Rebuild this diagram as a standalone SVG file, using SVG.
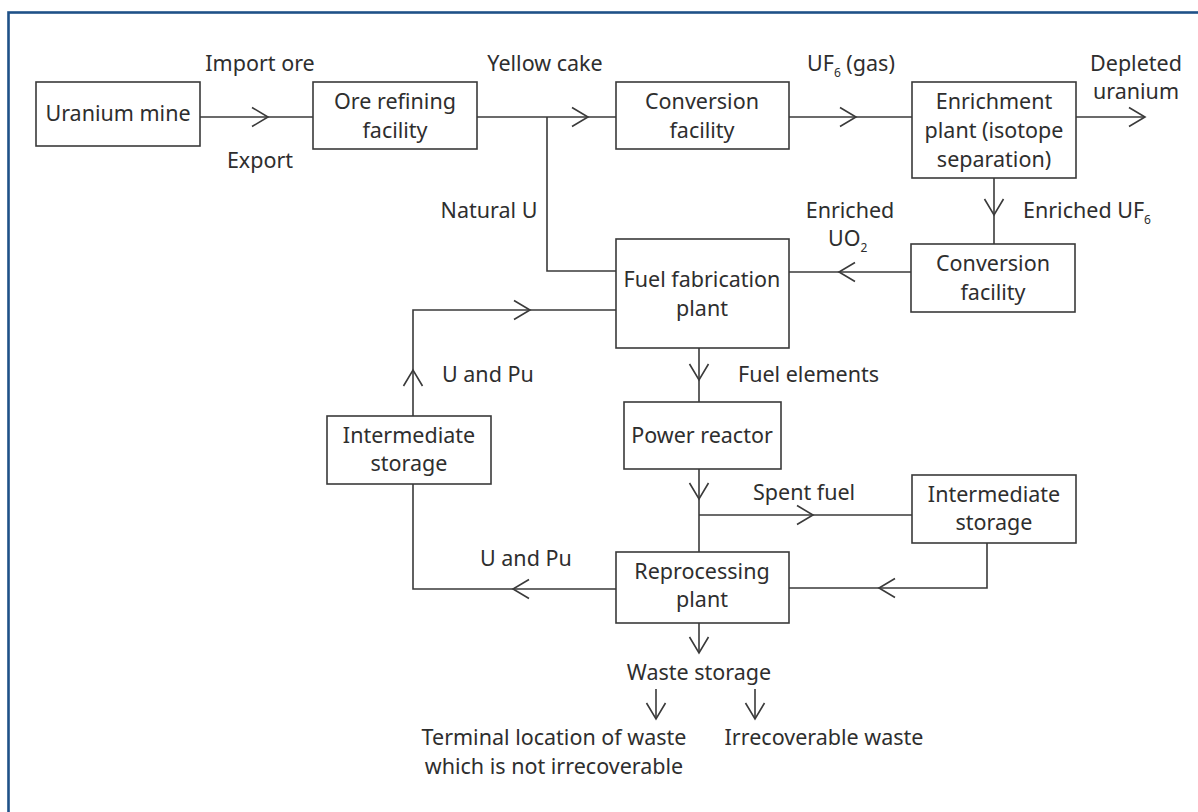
<svg xmlns="http://www.w3.org/2000/svg" width="1198" height="812" viewBox="0 0 1198 812">
<style>
  .box { fill: #ffffff; stroke: #3a3a3a; stroke-width: 1.6; }
  .ln { fill: none; stroke: #3a3a3a; stroke-width: 1.6; }
  text { font-family: "Noto Sans", "Open Sans", sans-serif; font-size: 21.5px; fill: #2e2e2e; }
  .c { text-anchor: middle; }
  .sub { font-size: 12px; }
</style>
<defs>
  <path id="chev" d="M -16 -9.5 L 0 0 L -16 9.5" fill="none" stroke="#3a3a3a" stroke-width="1.6"/>
</defs>
<rect x="0" y="0" width="1198" height="812" fill="#ffffff"/>
<rect x="8.5" y="12.5" width="1300" height="900" fill="none" stroke="#1f5188" stroke-width="2.6"/>

<g id="connectors">
  <path class="ln" d="M 200 117 H 313"/>
  <use href="#chev" transform="translate(268,117)"/>
  <path class="ln" d="M 477 117 H 616"/>
  <use href="#chev" transform="translate(588,117)"/>
  <path class="ln" d="M 547 117 V 271 H 616"/>
  <path class="ln" d="M 789 117 H 912"/>
  <use href="#chev" transform="translate(856,117)"/>
  <path class="ln" d="M 1076 117 H 1145"/>
  <use href="#chev" transform="translate(1145,117)"/>
  <path class="ln" d="M 994 178 V 244"/>
  <use href="#chev" transform="translate(994,215) rotate(90)"/>
  <path class="ln" d="M 911 272 H 789"/>
  <use href="#chev" transform="translate(839,272) rotate(180)"/>
  <path class="ln" d="M 699 348 V 402"/>
  <use href="#chev" transform="translate(699,380) rotate(90)"/>
  <path class="ln" d="M 699 469 V 552"/>
  <use href="#chev" transform="translate(699,499) rotate(90)"/>
  <path class="ln" d="M 699 515 H 912"/>
  <use href="#chev" transform="translate(813,515)"/>
  <path class="ln" d="M 987 543 V 588 H 789"/>
  <use href="#chev" transform="translate(879,588) rotate(180)"/>
  <path class="ln" d="M 616 589 H 413 V 484"/>
  <use href="#chev" transform="translate(513,589) rotate(180)"/>
  <path class="ln" d="M 413 416 V 310 H 616"/>
  <use href="#chev" transform="translate(413,370) rotate(-90)"/>
  <use href="#chev" transform="translate(530,310)"/>
  <path class="ln" d="M 699 623 V 653"/>
  <use href="#chev" transform="translate(699,653) rotate(90)"/>
  <path class="ln" d="M 656 689 V 719"/>
  <use href="#chev" transform="translate(656,719) rotate(90)"/>
  <path class="ln" d="M 755 689 V 719"/>
  <use href="#chev" transform="translate(755,719) rotate(90)"/>
</g>

<g id="labels">
  <text x="260" y="71" class="c">Import ore</text>
  <text x="260" y="168" class="c">Export</text>
  <text x="545" y="71" class="c">Yellow cake</text>
  <text x="807" y="71">UF<tspan class="sub" dy="6">6</tspan><tspan dy="-6"> (gas)</tspan></text>
  <text x="1136" y="71" class="c">Depleted</text>
  <text x="1136" y="99" class="c">uranium</text>
  <text x="489" y="218" class="c">Natural U</text>
  <text x="850" y="218" class="c">Enriched</text>
  <text x="828" y="246">UO<tspan class="sub" dy="6">2</tspan></text>
  <text x="1023" y="218">Enriched UF<tspan class="sub" dy="6">6</tspan></text>
  <text x="442" y="382">U and Pu</text>
  <text x="738" y="382">Fuel elements</text>
  <text x="753" y="500">Spent fuel</text>
  <text x="480" y="566">U and Pu</text>
  <text x="699" y="680" class="c">Waste storage</text>
  <text x="554" y="745" class="c">Terminal location of waste</text>
  <text x="554" y="774" class="c">which is not irrecoverable</text>
  <text x="824" y="745" class="c">Irrecoverable waste</text>
</g>

<g id="uranium-mine">
  <rect class="box" x="36" y="82" width="164" height="64"/>
  <text x="118" y="121" class="c">Uranium mine</text>
</g>
<g id="ore-refining">
  <rect class="box" x="313" y="82" width="164" height="67"/>
  <text x="395" y="109" class="c">Ore refining</text>
  <text x="395" y="138" class="c">facility</text>
</g>
<g id="conversion-1">
  <rect class="box" x="616" y="82" width="173" height="67"/>
  <text x="702" y="109" class="c">Conversion</text>
  <text x="702" y="138" class="c">facility</text>
</g>
<g id="enrichment">
  <rect class="box" x="912" y="82" width="164" height="96"/>
  <text x="994" y="109" class="c">Enrichment</text>
  <text x="994" y="138" class="c">plant (isotope</text>
  <text x="994" y="167" class="c">separation)</text>
</g>
<g id="conversion-2">
  <rect class="box" x="911" y="244" width="164" height="68"/>
  <text x="993" y="271" class="c">Conversion</text>
  <text x="993" y="300" class="c">facility</text>
</g>
<g id="fuel-fabrication">
  <rect class="box" x="616" y="239" width="173" height="109"/>
  <text x="702" y="287" class="c">Fuel fabrication</text>
  <text x="702" y="316" class="c">plant</text>
</g>
<g id="power-reactor">
  <rect class="box" x="624" y="402" width="157" height="67"/>
  <text x="702" y="443" class="c">Power reactor</text>
</g>
<g id="intermediate-storage-left">
  <rect class="box" x="327" y="416" width="164" height="68"/>
  <text x="409" y="443" class="c">Intermediate</text>
  <text x="409" y="471" class="c">storage</text>
</g>
<g id="intermediate-storage-right">
  <rect class="box" x="912" y="475" width="164" height="68"/>
  <text x="994" y="502" class="c">Intermediate</text>
  <text x="994" y="530" class="c">storage</text>
</g>
<g id="reprocessing">
  <rect class="box" x="616" y="552" width="173" height="71"/>
  <text x="702" y="579" class="c">Reprocessing</text>
  <text x="702" y="607" class="c">plant</text>
</g>
</svg>
